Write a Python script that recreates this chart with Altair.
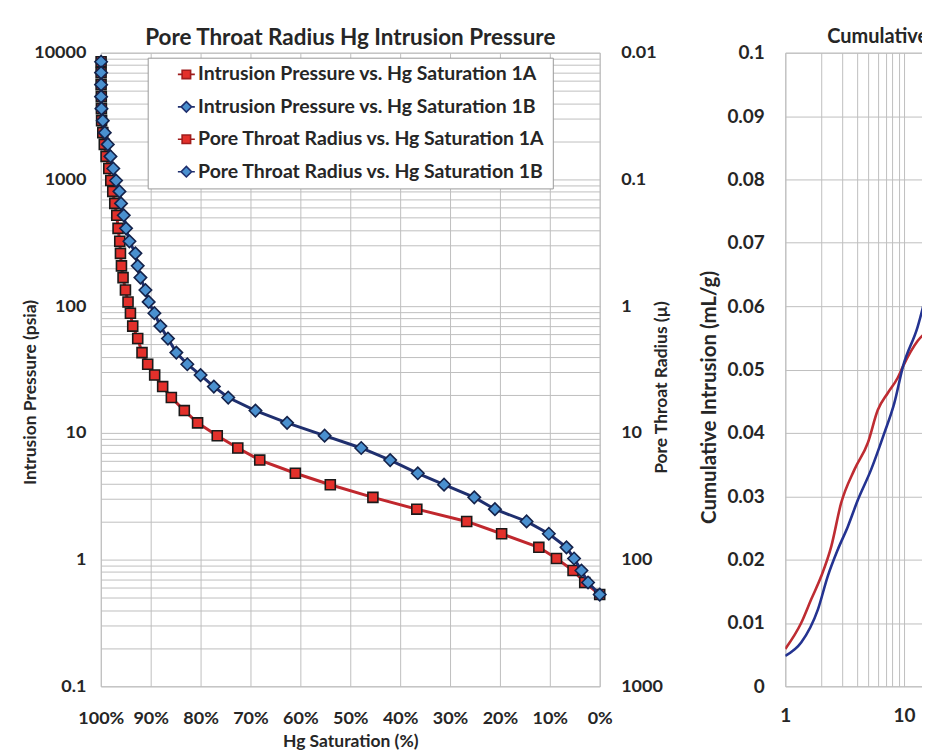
import altair as alt
import pandas as pd

# ---------------- data ----------------
# Left chart: shared intrusion-pressure steps (psia) and Hg saturation (%) per sample
pressure_psia = [8490, 6960, 5600, 4500, 3620, 2910, 2340, 1890, 1520, 1220,
                 980, 805, 647, 521, 411, 325, 261, 208, 168, 134,
                 108, 88, 69.6, 55.5, 43.0, 34.8, 28.6, 23.2, 19.0, 15.0,
                 12.0, 9.5, 7.6, 6.1, 4.8, 3.9, 3.1, 2.5, 2.0, 1.6,
                 1.25, 1.02, 0.82, 0.66, 0.53]
hg_sat_1a = [99.94, 99.94, 99.94, 99.9, 99.88, 99.84, 99.6, 99.3, 98.94, 98.4,
             98.0, 97.6, 97.2, 96.8, 96.54, 96.2, 96.06, 95.86, 95.54, 95.06,
             94.54, 94.06, 93.6, 92.6, 91.74, 90.6, 89.2, 87.6, 85.86, 83.26,
             80.6, 76.66, 72.54, 68.14, 61.0, 54.0, 45.46, 36.66, 26.66, 19.66,
             12.2, 8.66, 5.34, 3.0, 0.0]
hg_sat_1b = [99.94, 99.94, 99.94, 99.94, 99.86, 99.6, 99.2, 98.6, 98.06, 97.5,
             96.94, 96.26, 95.94, 95.4, 94.94, 94.26, 93.06, 92.6, 92.06, 91.06,
             90.4, 89.26, 88.06, 86.54, 84.86, 82.66, 80.0, 77.34, 74.46, 69.0,
             62.66, 55.14, 47.8, 42.0, 36.46, 31.2, 25.14, 21.0, 14.66, 10.2,
             6.66, 5.14, 3.66, 2.34, 0.0]
legend_labels = ["Intrusion Pressure vs. Hg Saturation 1A",
                 "Intrusion Pressure vs. Hg Saturation 1B",
                 "Pore Throat Radius vs. Hg Saturation 1A",
                 "Pore Throat Radius vs. Hg Saturation 1B"]

# Right chart (only its left part is visible): cumulative intrusion (mL/g)
cum_x_1a = [1.0, 1.36, 1.65, 2.01, 2.44, 2.95, 3.82, 4.95, 6.01, 7.30, 8.85, 9.8, 13.0, 16.9]
cum_y_1a = [0.0059, 0.0100, 0.0137, 0.0174, 0.0221, 0.0289, 0.0342, 0.0384, 0.0436, 0.0463,
            0.0487, 0.0505, 0.0545, 0.0565]
cum_x_1b = [1.0, 1.36, 1.88, 2.28, 2.77, 3.36, 4.08, 5.28, 6.83, 8.28, 9.8, 13.0, 16.9]
cum_y_1b = [0.0048, 0.0069, 0.0121, 0.0174, 0.0216, 0.0252, 0.0294, 0.0342, 0.0400, 0.0447,
            0.0505, 0.0567, 0.0651]

# ---------------- tick / grid positions ----------------
sat_ticks = list(range(0, 101, 10))
log_grid = [round(m * 10 ** e, 6) for e in range(-1, 4) for m in range(1, 10)] + [10000]
log_major = [0.1, 1, 10, 100, 1000, 10000]
cum_ticks = [round(i * 0.01, 2) for i in range(11)]
cum_x_grid = list(range(1, 11))

# ---------------- styling ----------------
FONT = "Lato"
TXT = "#262626"
GRID = "#BFBFBF"
RED_LINE = "#C0272D"
RED_FILL = "#E3302B"
NAVY = "#1F2F6E"
BLUE_FILL = "#4A90CF"
MARK_STROKE = "#1A1A1A"

n = len(pressure_psia)
df = pd.DataFrame({
    "sat": hg_sat_1a + hg_sat_1b,
    "pressure": pressure_psia + pressure_psia,
    "sample": ["1A"] * n + ["1B"] * n,
})

x_enc = alt.X("sat:Q",
              scale=alt.Scale(domain=[0, 100], reverse=True, nice=False, zero=False),
              axis=alt.Axis(values=sat_ticks, labelExpr="datum.value + '%'",
                            title="Hg Saturation (%)", grid=True, gridColor=GRID,
                            ticks=False, domain=False, labelPadding=23, titlePadding=5,
                            labelFlush=False, labelOverlap=False,
                            labelFontSize=18, titleFontSize=17.5))
y_scale = alt.Scale(type="log", domain=[0.1, 10000], nice=False)
y_left = alt.Y("pressure:Q", scale=y_scale,
               axis=alt.Axis(values=log_grid,
                             labelExpr="indexof(['0.1','1','10','100','1000','10000'], format(datum.value, '~g')) >= 0 ? format(datum.value, '~g') : ''",
                             title="Intrusion Pressure (psia)", grid=True, gridColor=GRID,
                             ticks=False, domain=False, labelPadding=15,
                             labelFlush=False, labelOverlap=False,
                             titleX=-70, titleY=340, titleBaseline="middle",
                             labelFontSize=18, titleFontSize=17.5, labelBound=False))
y_noaxis = alt.Y("pressure:Q", scale=y_scale, axis=None)
y_right = alt.Y("pressure:Q", scale=y_scale,
                axis=alt.Axis(orient="right", values=log_major,
                              labelExpr="format(100 / datum.value, '~g')",
                              title="Pore Throat Radius (\u00b5)", titleAngle=270,
                              titleX=62, titleY=335, titleBaseline="middle",
                              labelFlush=False, labelOverlap=False,
                              grid=False, ticks=False, domain=False, labelPadding=21,
                              labelFontSize=18, titleFontSize=17.5))

base = alt.Chart(df)
axis_layer = base.mark_line(opacity=0).encode(x=x_enc, y=y_right, detail="sample:N")
line_1a = base.transform_filter("datum.sample == '1A'").mark_line(
    color=RED_LINE, strokeWidth=3).encode(x=x_enc, y=y_left)
pts_1a = base.transform_filter("datum.sample == '1A'").mark_point(
    shape="square", filled=True, fill=RED_FILL, stroke=MARK_STROKE, strokeWidth=1.6,
    size=100, opacity=1).encode(x=x_enc, y=y_noaxis)
line_1b = base.transform_filter("datum.sample == '1B'").mark_line(
    color=NAVY, strokeWidth=3).encode(x=x_enc, y=y_noaxis)
pts_1b = base.transform_filter("datum.sample == '1B'").mark_point(
    shape="diamond", filled=True, fill=BLUE_FILL, stroke="#14224A", strokeWidth=1.6,
    size=155, opacity=1).encode(x=x_enc, y=y_noaxis)

sq = "M-1,0H-0.5M0.5,0H1M-0.5,-0.5H0.5V0.5H-0.5Z"
di = "M-1,0H-0.62M0.62,0H1M-0.62,0L0,-0.62L0.62,0L0,0.62Z"
leg = alt.Legend(orient="none", legendX=47, legendY=5, fillColor="white",
                 strokeColor="#9A9A9A", padding=7, symbolOffset=22,
                 labelFont=FONT, labelFontSize=19.5, labelFontWeight="bold",
                 labelColor=TXT, labelLimit=600, labelOffset=2,
                 symbolSize=289, symbolStrokeWidth=1.6, symbolOpacity=1,
                 rowPadding=11.5)
legend_df = pd.DataFrame({"Legend": legend_labels})
legend_layer = alt.Chart(legend_df).mark_point(opacity=0).encode(
    shape=alt.Shape("Legend:N", title=None, legend=leg,
                    scale=alt.Scale(domain=legend_labels, range=[sq, di, sq, di])),
    fill=alt.Fill("Legend:N", title=None, legend=leg,
                  scale=alt.Scale(domain=legend_labels,
                                  range=[RED_FILL, BLUE_FILL, RED_FILL, BLUE_FILL])),
    stroke=alt.Stroke("Legend:N", title=None, legend=leg,
                      scale=alt.Scale(domain=legend_labels,
                                      range=["#A01C1C", NAVY, "#A01C1C", NAVY])),
)

left = alt.layer(axis_layer, line_1a, pts_1a, line_1b, pts_1b, legend_layer).resolve_axis(
    y="independent").properties(
    width=500, height=635,
    title=alt.TitleParams("Pore Throat Radius Hg Intrusion Pressure", fontSize=22.5,
                          font=FONT, fontWeight="bold", color=TXT, offset=3.5, dy=9))

# ---------------- right chart ----------------
cdf = pd.DataFrame({
    "x": cum_x_1a + cum_x_1b,
    "cum": cum_y_1a + cum_y_1b,
    "sample": ["1A"] * len(cum_x_1a) + ["1B"] * len(cum_x_1b),
})
cx = alt.X("x:Q", scale=alt.Scale(type="log", domain=[1, 10000], nice=False),
           axis=alt.Axis(values=cum_x_grid, title=None,
                         labelExpr="indexof(['1','10'], format(datum.value, '~g')) >= 0 ? format(datum.value, '~g') : ''",
                         grid=True, gridColor=GRID, ticks=False, domain=False,
                         labelFlush=False, labelOverlap=False,
                         labelPadding=20, labelFontSize=19))
cy = alt.Y("cum:Q", scale=alt.Scale(domain=[0, 0.1], nice=False),
           axis=alt.Axis(values=cum_ticks, format="~g", title="Cumulative Intrusion (mL/g)",
                         grid=True, gridColor=GRID, ticks=False, domain=False,
                         labelFlush=False, labelOverlap=False,
                         labelPadding=21, titleX=-76, titleY=345, titleBaseline="middle",
                         labelFontSize=19, titleFontSize=20.5))
cbase = alt.Chart(cdf)
r1 = cbase.transform_filter("datum.sample == '1A'").mark_line(
    color="#BE2C32", strokeWidth=2.6, interpolate="monotone", clip=True).encode(x=cx, y=cy)
r2 = cbase.transform_filter("datum.sample == '1B'").mark_line(
    color="#243391", strokeWidth=2.6, interpolate="monotone", clip=True).encode(x=cx, y=cy)
right = alt.layer(r1, r2).properties(
    width=476, height=635,
    title=alt.TitleParams("Cumulative Intrusion vs. Pressure", fontSize=20, font=FONT,
                          fontWeight="bold", color=TXT, anchor="start", frame="group",
                          dx=42, offset=3.5, dy=7))

chart = alt.hconcat(left, right, spacing=28).properties(
    padding={"left": 13, "top": 17, "right": -340, "bottom": 0}
).configure_view(stroke=GRID).configure_axis(
    labelFont=FONT, titleFont=FONT, labelFontWeight="bold", titleFontWeight="bold",
    labelColor=TXT, titleColor=TXT
)

chart.save("out.html", embed_options={"renderer": "svg", "actions": False})
